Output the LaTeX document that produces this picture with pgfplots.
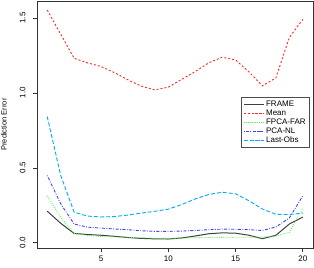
\documentclass[border=0pt]{standalone}
\usepackage{fontspec}
\setmainfont{Liberation Sans}
\usepackage{pgfplots}
\pgfplotsset{compat=1.18}
\begin{document}
\begin{tikzpicture}[x=1pt,y=1pt]
\begin{axis}[
  scale only axis,
  width=276pt, height=247pt,
  xmin=0.24, xmax=20.76,
  ymin=-0.035, ymax=1.613,
  xtick={5,10,15,20},
  ytick={0,0.5,1.0,1.5},
  yticklabel style={rotate=90, anchor=south, yshift=4pt, /pgf/number format/fixed, /pgf/number format/fixed zerofill, /pgf/number format/precision=1},
  /pgf/number format/assume math mode=true,
  tick label style={font=\fontsize{8}{9.6}\selectfont},
  tick align=outside,
  major tick length=4pt,
  axis line style={line width=0.8pt, black!80},
  every tick/.style={black!80, line width=0.6pt},
  xtick pos=bottom, ytick pos=left,
  ylabel={Prediction Error},
  ylabel style={font=\fontsize{7.5}{9}\selectfont, at={(rel axis cs:0,0.5)}, anchor=center, yshift=33pt},
  legend style={at={(rel axis cs:0.989,0.611)}, anchor=north east, draw=black!70, line width=0.6pt,
    font=\fontsize{8}{9.6}\selectfont, row sep=-2.3pt, inner xsep=2pt, inner ysep=2pt, fill=white},
  legend cell align=left,
  legend image code/.code={\path (0pt,0pt) -- (20pt,0pt); \draw[#1] (11pt,0pt) -- (20pt,0pt);},
]
\addplot[black!75, line width=1pt] coordinates {
(1,0.211)(2,0.13)(3,0.062)(4,0.055)(5,0.05)(6,0.043)(7,0.035)(8,0.029)(9,0.026)(10,0.025)
(11,0.032)(12,0.045)(13,0.06)(14,0.066)(15,0.064)(16,0.05)(17,0.027)(18,0.05)(19,0.125)(20,0.171)};
\addlegendentry{FRAME}
\addplot[red!85, line width=0.9pt, dash pattern=on 2pt off 2pt] coordinates {
(1,1.553)(2,1.392)(3,1.231)(4,1.20)(5,1.176)(6,1.135)(7,1.087)(8,1.045)(9,1.020)(10,1.038)
(11,1.09)(12,1.142)(13,1.20)(14,1.238)(15,1.22)(16,1.14)(17,1.047)(18,1.10)(19,1.37)(20,1.49)};
\addlegendentry{Mean}
\addplot[green!75, line width=0.9pt, dash pattern=on 0.8pt off 1.4pt] coordinates {
(1,0.313)(2,0.17)(3,0.062)(4,0.048)(5,0.042)(6,0.039)(7,0.036)(8,0.033)(9,0.03)(10,0.029)
(11,0.031)(12,0.033)(13,0.035)(14,0.036)(15,0.037)(16,0.037)(17,0.038)(18,0.045)(19,0.07)(20,0.232)};
\addlegendentry{FPCA-FAR}
\addplot[blue!75, line width=0.9pt, dash pattern=on 0.8pt off 1.5pt on 3pt off 1.5pt] coordinates {
(1,0.449)(2,0.26)(3,0.125)(4,0.104)(5,0.098)(6,0.092)(7,0.087)(8,0.08)(9,0.076)(10,0.076)
(11,0.078)(12,0.082)(13,0.087)(14,0.091)(15,0.09)(16,0.087)(17,0.082)(18,0.105)(19,0.165)(20,0.313)};
\addlegendentry{PCA-NL}
\addplot[cyan, line width=0.9pt, dash pattern=on 4pt off 2pt] coordinates {
(1,0.842)(2,0.45)(3,0.204)(4,0.178)(5,0.172)(6,0.175)(7,0.185)(8,0.198)(9,0.21)(10,0.224)
(11,0.255)(12,0.292)(13,0.322)(14,0.337)(15,0.327)(16,0.28)(17,0.225)(18,0.19)(19,0.188)(20,0.198)};
\addlegendentry{Last-Obs}
\end{axis}
\pgfresetboundingbox
\path ([shift={(-37pt,-19pt)}]current axis.south west) rectangle ([shift={(1pt,1pt)}]current axis.north east);
\end{tikzpicture}
\end{document}
